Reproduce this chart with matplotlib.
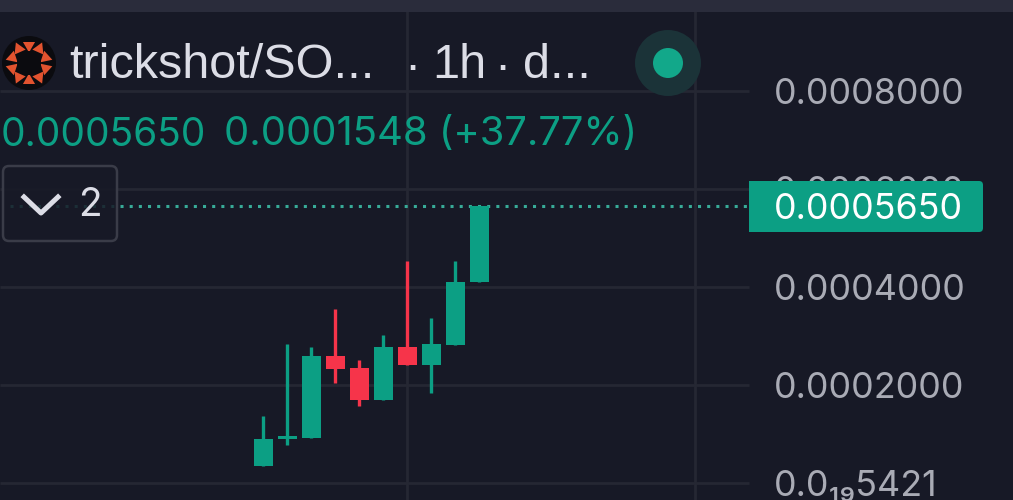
import numpy as np
import matplotlib
matplotlib.use("Agg")
import matplotlib.pyplot as plt
from matplotlib.patches import Circle, FancyBboxPatch, Rectangle, RegularPolygon

plt.rcParams["font.family"] = ["Inter", "DejaVu Sans"]

# candle values
candle_idx = [0, 1, 2, 3, 4, 5, 6, 7, 8, 9]
opens = [0.0000347, 0.0000905, 0.0000918, 0.0002592, 0.0002347, 0.0001694, 0.0002776, 0.0002408, 0.0002816, 0.0004102]
closes = [0.0000898, 0.0000959, 0.0002592, 0.0002327, 0.0001694, 0.0002776, 0.0002408, 0.0002837, 0.0004102, 0.0005650]
highs = [0.0001367, 0.0002837, 0.0002776, 0.0003558, 0.0002510, 0.0003020, 0.0004531, 0.0003367, 0.0004531, 0.0005650]
lows = [0.0000347, 0.0000776, 0.0000918, 0.0002041, 0.0001571, 0.0001694, 0.0002408, 0.0001837, 0.0002816, 0.0004102]

y_grid = [0.0, 0.0002, 0.0004, 0.0006, 0.0008]
y_labels = ["0.0₁₉5421", "0.0002000", "0.0004000", "0.0006000", "0.0008000"]
x_grid = [6, 18]
last_price = 0.0005650
last_label = "0.0005650"

bg = "#171926"
grid_col = "#252733"
green = "#0c9f84"
red = "#f6344a"
text_col = "#dcdde6"
axis_text = "#a9abb5"

fig = plt.figure(figsize=(10.13, 5), dpi=100, facecolor=bg)
ax = fig.add_axes([0, 0, 1, 1], facecolor=bg)

# pixel to data: 24 px per candle, 98 px per 0.0002
ax.set_xlim((0 - 263.3) / 24, (1013 - 263.3) / 24)
ax.set_ylim((483 - 500) / 98 * 0.0002, 483 / 98 * 0.0002)
ax.axis("off")

x_right = (749 - 263.3) / 24
ax.hlines(y_grid, ax.get_xlim()[0], x_right, color=grid_col, lw=2, zorder=1)
ax.vlines(x_grid, ax.get_ylim()[0], ax.get_ylim()[1], color=grid_col, lw=2, zorder=1)

ax.hlines(last_price, (10 - 263.3) / 24, x_right, color="#38ab98", lw=2.2,
          linestyles=(0, (1.0, 2.0)), zorder=2)

for i in candle_idx:
    col = green if closes[i] >= opens[i] else red
    ax.vlines(i, lows[i], highs[i], color=col, lw=2.4, zorder=3)
    ax.bar(i, abs(closes[i] - opens[i]), bottom=min(opens[i], closes[i]), width=19 / 24, color=col, zorder=4)

# overlay in pixel coordinates for the app chrome
ov = fig.add_axes([0, 0, 1, 1], facecolor="none")
ov.set_xlim(0, 1013)
ov.set_ylim(500, 0)
ov.axis("off")

ov.add_patch(Rectangle((0, 0), 1013, 12, color="#2a2c3b", lw=0))

# logo
ov.add_patch(Circle((29, 63), 27, color="#0b0b0f", lw=0))
for a in np.arange(0, 360, 36):
    r = np.deg2rad(a)
    ov.add_patch(RegularPolygon((29 + 17.5 * np.sin(r), 63 - 17.5 * np.cos(r)), 3, radius=7,
                                orientation=-r, color="#e2532f", lw=0))
ov.add_patch(Circle((29, 63), 12, color="#0b0b0f", lw=0))

ov.text(69, 66, "trickshot/SO...", color=text_col, fontsize=35, va="center", ha="left", family="Liberation Sans")
ov.text(404, 68, "·", color=text_col, fontsize=35, va="center", ha="left", family="Liberation Sans")
ov.text(432, 66, "1h", color=text_col, fontsize=35, va="center", ha="left", family="Liberation Sans")
ov.text(494, 68, "·", color=text_col, fontsize=35, va="center", ha="left", family="Liberation Sans")
ov.text(523, 66, "d...", color=text_col, fontsize=35, va="center", ha="left", family="Liberation Sans")
ov.text(1, 135, "0.0005650", color=green, fontsize=28, va="center", ha="left")
ov.text(224, 135, "0.0001548 (+37.77%)", color=green, fontsize=28.8, va="center", ha="left")

# status dot
ov.add_patch(Circle((668, 63), 33, color="#1b3338", lw=0))
ov.add_patch(Circle((668, 63), 15, color="#12a88a", lw=0))

# collapsed indicators button
ov.add_patch(FancyBboxPatch((7, 170), 106, 67, boxstyle="round,pad=4,rounding_size=6",
                            fc=(0.09, 0.098, 0.149, 0.85), ec="#3a3c48", lw=1.8))
ov.plot([24, 41, 58], [197, 213, 197], color=text_col, lw=3.6)
ov.text(90, 205, "2", color=text_col, fontsize=28, va="center", ha="center")

# price axis labels
for v, lab in zip(y_grid, y_labels):
    y_px = 483 - v / 0.0002 * 98
    ov.text(774, y_px, lab, color=axis_text, fontsize=25.8, va="center_baseline", ha="left", zorder=1)

# last price tag
y_tag = 483 - last_price / 0.0002 * 98
ov.add_patch(FancyBboxPatch((753, 185), 226, 43, boxstyle="round,pad=4,rounding_size=4",
                            fc=green, ec="none", zorder=5))
ov.add_patch(Rectangle((749, 181), 12, 51, color=green, lw=0, zorder=5))
ov.text(774, y_tag, last_label, color="white", fontsize=25.8, va="center_baseline", ha="left", zorder=6)

fig.savefig("out.png", dpi=100, facecolor=bg)
